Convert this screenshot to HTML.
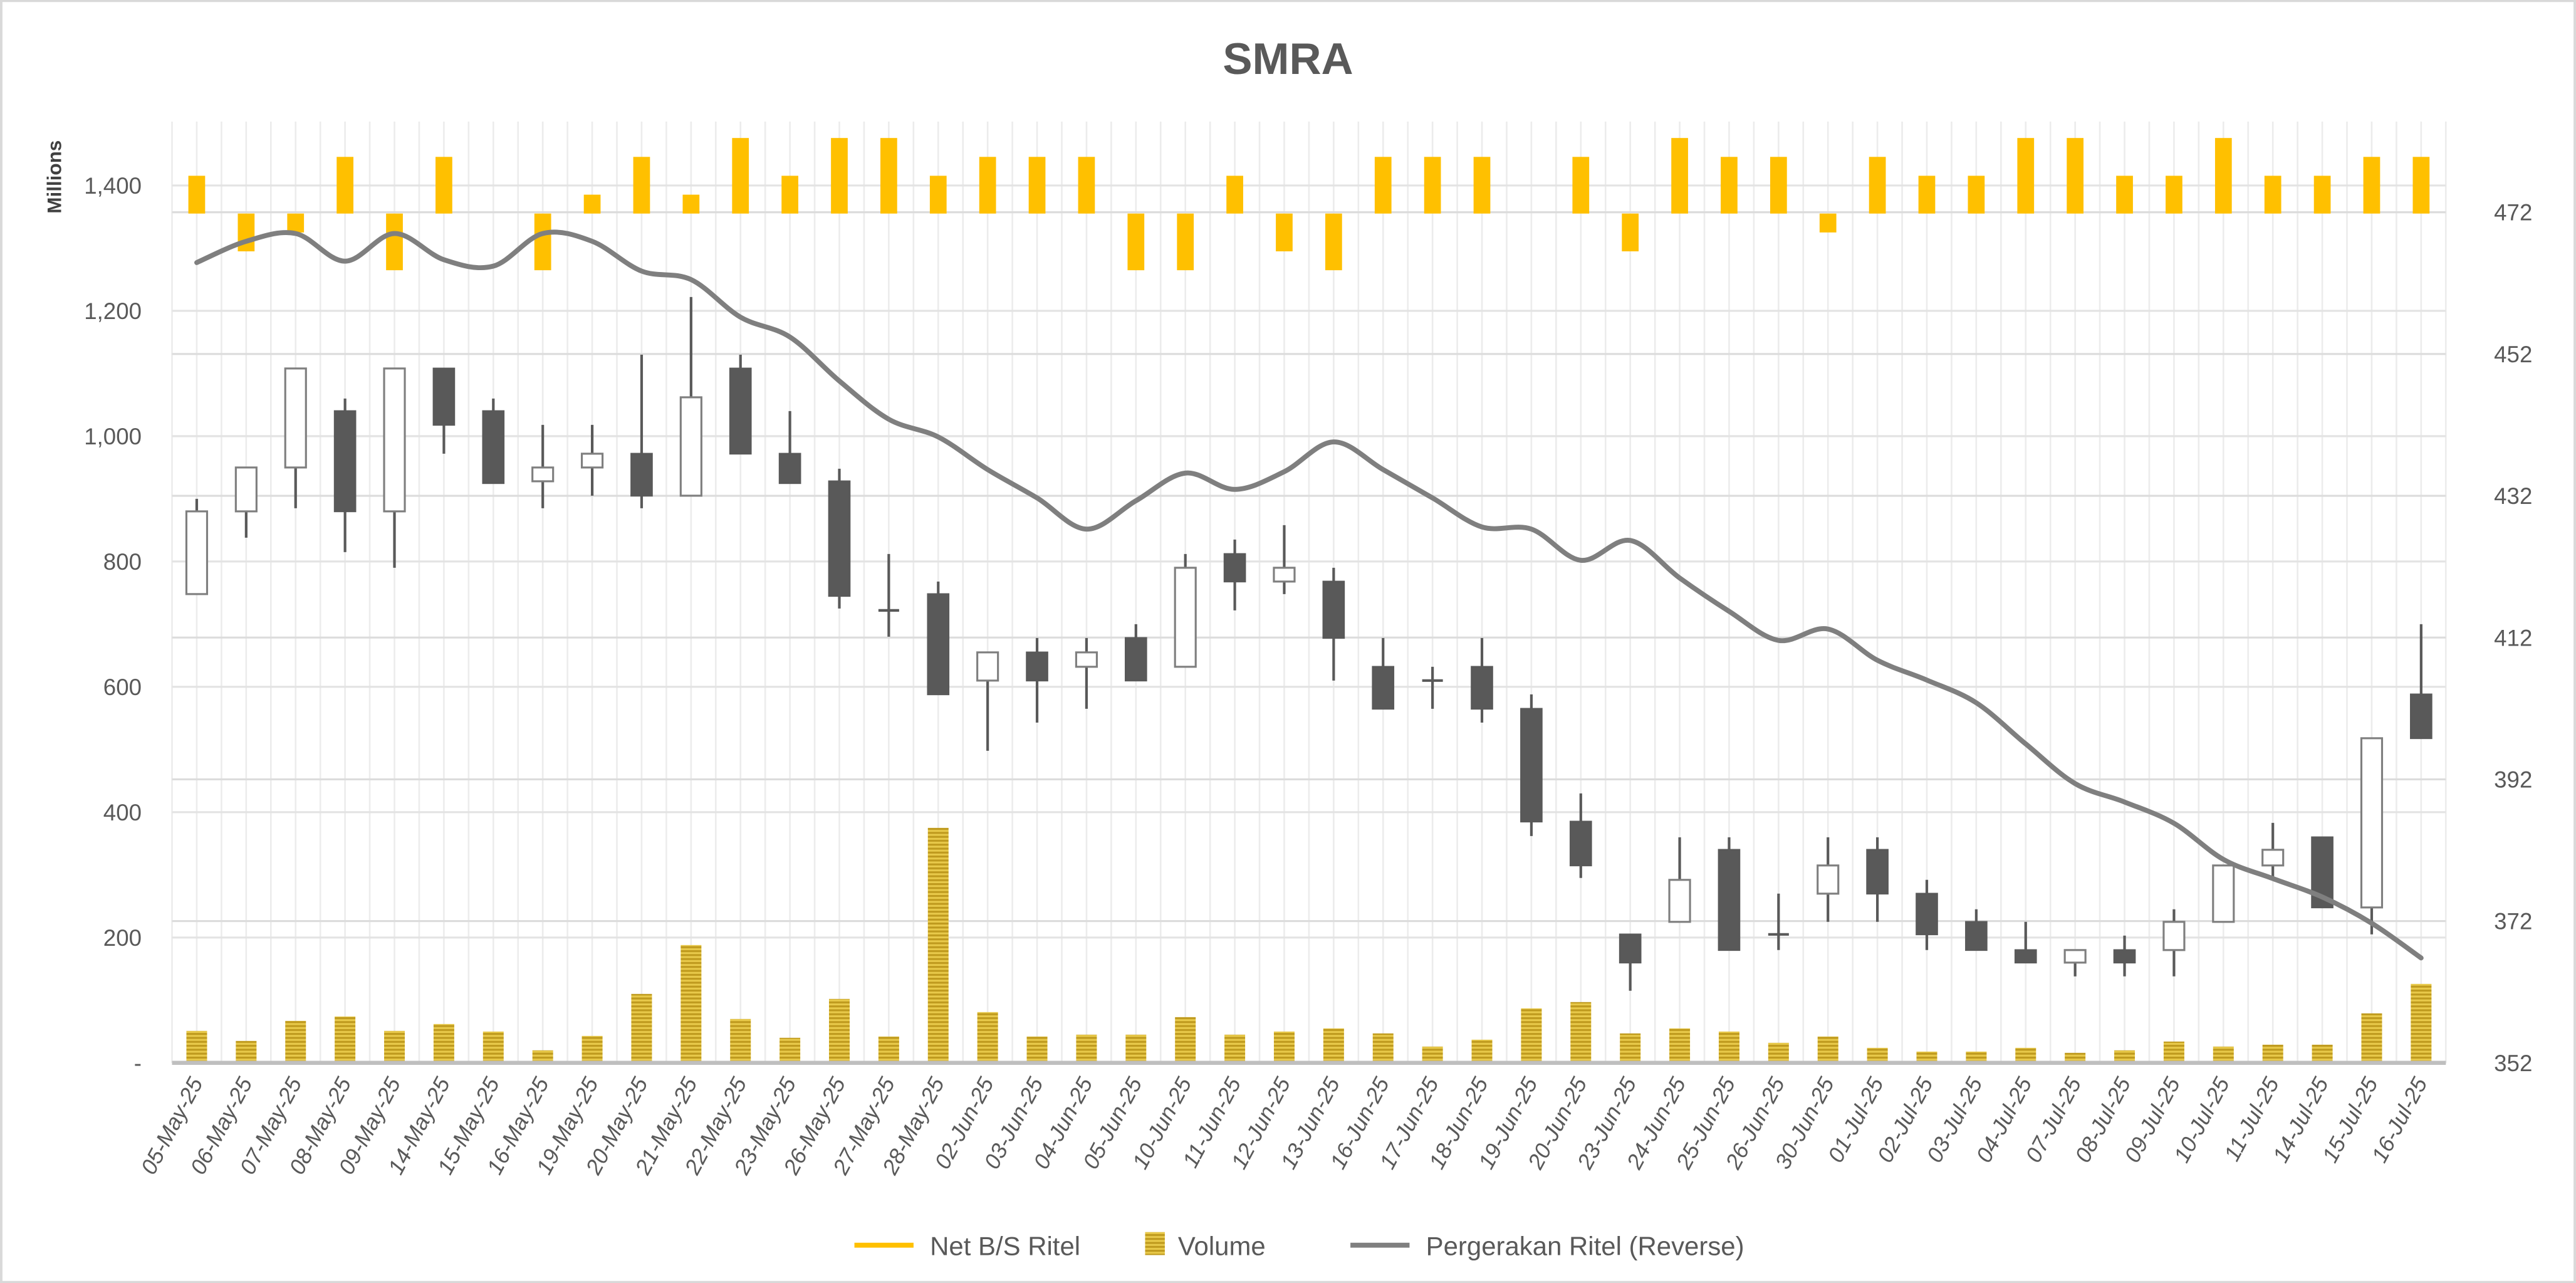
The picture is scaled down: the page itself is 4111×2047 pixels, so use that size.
<!DOCTYPE html>
<html><head><meta charset="utf-8"><style>
html,body{margin:0;padding:0;background:#fff;}
svg{display:block;font-family:"Liberation Sans",sans-serif;}
</style></head><body>
<svg id="chart" width="4111" height="2047" viewBox="0 0 1568 781" xmlns="http://www.w3.org/2000/svg">
<defs>
<pattern id="stripes" width="4" height="2.4" patternUnits="userSpaceOnUse">
<rect width="4" height="2.4" fill="#e8c94a"/><rect width="4" height="1.2" fill="#bf9a1e"/>
</pattern>
</defs>
<rect x="0.5" y="0.5" width="1567" height="780" fill="#fff" stroke="#d9d9d9" stroke-width="1.5"/>
<text x="784" y="45" text-anchor="middle" font-size="27" font-weight="bold" fill="#595959">SMRA</text>
<text transform="translate(37,130) rotate(-90)" font-size="12" font-weight="bold" fill="#404040">Millions</text>
<g id="grid"></g>
<g id="vol"></g>
<g id="net"></g>
<g id="candles"></g>
<g id="line"></g>
<g id="axes"></g>
<g font-size="16" fill="#595959">
<g><line x1="520" y1="758" x2="556" y2="758" stroke="#ffc000" stroke-width="3"/><text x="566" y="764">Net B/S Ritel</text></g>
<g><rect x="697" y="750" width="12" height="14" fill="url(#stripes)"/><text x="717" y="764">Volume</text></g>
<g><line x1="822" y1="758" x2="858" y2="758" stroke="#7f7f7f" stroke-width="3"/><text x="868" y="764">Pergerakan Ritel (Reverse)</text></g>
</g>
</svg>
<script>
const categories=["05-May-25","06-May-25","07-May-25","08-May-25","09-May-25","14-May-25","15-May-25","16-May-25","19-May-25","20-May-25","21-May-25","22-May-25","23-May-25","26-May-25","27-May-25","28-May-25","02-Jun-25","03-Jun-25","04-Jun-25","05-Jun-25","10-Jun-25","11-Jun-25","12-Jun-25","13-Jun-25","16-Jun-25","17-Jun-25","18-Jun-25","19-Jun-25","20-Jun-25","23-Jun-25","24-Jun-25","25-Jun-25","26-Jun-25","30-Jun-25","01-Jul-25","02-Jul-25","03-Jul-25","04-Jul-25","07-Jul-25","08-Jul-25","09-Jul-25","10-Jul-25","11-Jul-25","14-Jul-25","15-Jul-25","16-Jul-25"];
const openVals=[748,880,950,1040,880,1108,1040,928,950,972,905,1108,972,928,722,748,610,655,632,678,632,812,768,768,632,610,632,565,385,205,225,340,205,270,340,270,225,180,160,180,180,225,315,360,248,588];
const closeVals=[880,950,1108,880,1108,1018,925,950,972,905,1062,972,925,745,722,588,655,610,655,610,790,768,790,678,565,610,565,385,315,160,292,180,205,315,270,205,180,160,180,160,225,315,340,248,518,518];
const highVals=[900,950,1108,1060,1108,1108,1060,1018,1018,1130,1222,1130,1040,948,812,768,655,678,678,700,812,835,858,790,678,632,678,588,430,205,360,360,270,360,360,292,245,225,180,203,245,315,383,360,518,700];
const lowVals=[748,838,885,815,790,972,925,885,905,885,905,972,925,725,680,588,498,543,565,610,632,722,748,610,565,565,543,362,295,115,225,180,180,225,225,180,180,160,138,138,138,225,292,248,205,518];
const volumeVals=[51,35,67,74,51,62,50,20,43,110,188,70,40,102,42,375,81,42,45,45,73,45,50,55,47,26,37,87,97,47,55,50,32,42,24,18,18,24,16,20,34,26,29,29,79,126];
const netVals=[2,-2,-1,3,-3,3,0,-3,1,3,1,4,2,4,4,2,3,3,3,-3,-3,2,-2,-3,3,3,3,0,3,-2,4,3,3,-1,3,2,2,4,4,2,2,4,2,2,3,3];
const lineVals=[464.9,467.9,469,465.1,469,465.3,464.4,469,467.9,463.7,462.5,457.2,454.4,448.2,442.8,440.3,435.7,431.7,427.3,431.3,435.2,432.9,435.4,439.6,435.7,431.7,427.6,427.3,422.9,425.7,420.4,415.7,411.6,413.2,408.8,406,402.8,397,391.4,388.8,385.8,380.7,378,375.4,371.7,366.8];
const leftTicks=[0,200,400,600,800,1000,1200,1400];
const leftTickLabels=["-","200","400","600","800","1,000","1,200","1,400"];
const rightTicks=[352,372,392,412,432,452,472];

const NS="http://www.w3.org/2000/svg";
const PL=104.5, PR=1489, PT=74, PB=647;
const step=(PR-PL)/categories.length;
const xC=i=>PL+step*(i+0.5);
const yL=v=>PB-v*0.3815;
const yR=v=>PB-(v-352)*4.315;
const NET0=130, NETU=11.5;
const yN=v=>NET0-v*NETU;
function mk(tag,attrs,parent){const e=document.createElementNS(NS,tag);for(const k in attrs)e.setAttribute(k,attrs[k]);parent.appendChild(e);return e;}
const G=id=>document.getElementById(id);

// gridlines
const grid=G('grid');
for(let i=0;i<=categories.length*2;i++){
  const x=PL+step*i/2;
  const l=mk('line',{x1:x,x2:x,y1:PT,y2:PB,stroke:'#ececec','stroke-width':1},grid);
  
  
}
leftTicks.forEach(v=>{const l=mk('line',{x1:PL,x2:PR,y1:yL(v),y2:yL(v),stroke:'#e3e3e3','stroke-width':1.2},grid);
  
  });
rightTicks.forEach(v=>{const l=mk('line',{x1:PL,x2:PR,y1:yR(v),y2:yR(v),stroke:'#dcdcdc','stroke-width':1.2},grid);
  
  });

// volume
const vol=G('vol');
volumeVals.forEach((v,i)=>{const r=mk('rect',{x:xC(i)-6.3,y:yL(v),width:12.6,height:PB-yL(v),fill:'url(#stripes)'},vol);
  
  });

// net bars
const net=G('net');
netVals.forEach((v,i)=>{if(v===0)return;const y=Math.min(yN(v),NET0);const r=mk('rect',{x:xC(i)-5.1,y:y,width:10.2,height:Math.abs(v)*NETU,fill:'#ffc000'},net);
  
  });

// candles
const cg=G('candles');
categories.forEach((c,i)=>{
  const g=mk('g',{},cg);
  
  
  const x=xC(i);
  mk('line',{x1:x,x2:x,y1:yL(highVals[i]),y2:yL(lowVals[i]),stroke:'#595959','stroke-width':1.6},g);
  const o=openVals[i],cl=closeVals[i];
  const top=yL(Math.max(o,cl)),bot=yL(Math.min(o,cl));
  if(Math.abs(o-cl)<1){mk('line',{x1:x-6.3,x2:x+6.3,y1:top,y2:top,stroke:'#595959','stroke-width':1.6},g);}
  else if(cl>o){mk('rect',{x:x-6.3,y:top,width:12.6,height:bot-top,fill:'#fff',stroke:'#7f7f7f','stroke-width':1.2},g);}
  else{mk('rect',{x:x-6.3,y:top,width:12.6,height:bot-top,fill:'#595959',stroke:'#595959','stroke-width':1},g);}
});

// smooth line
const pts=lineVals.map((v,i)=>[xC(i),yR(v)]);
let d='M'+pts[0][0]+','+pts[0][1];
for(let i=0;i<pts.length-1;i++){
  const p0=pts[Math.max(0,i-1)],p1=pts[i],p2=pts[i+1],p3=pts[Math.min(pts.length-1,i+2)];
  const t=1/6;
  d+=' C'+(p1[0]+(p2[0]-p0[0])*t)+','+(p1[1]+(p2[1]-p0[1])*t)+' '+(p2[0]-(p3[0]-p1[0])*t)+','+(p2[1]-(p3[1]-p1[1])*t)+' '+p2[0]+','+p2[1];
}
const path=mk('path',{d:d,fill:'none',stroke:'#7f7f7f','stroke-width':3,'stroke-linecap':'round','stroke-linejoin':'round'},G('line'));



// axes
const ax=G('axes');
const base=mk('line',{x1:PL,x2:PR,y1:PB,y2:PB,stroke:'#bfbfbf','stroke-width':2.5},ax);


leftTicks.forEach((v,i)=>{const t=mk('text',{x:86,y:yL(v)+5,'text-anchor':'end','font-size':14,fill:'#595959'},ax);t.textContent=leftTickLabels[i];
  
  });
rightTicks.forEach(v=>{const t=mk('text',{x:1530,y:yR(v)+5,'text-anchor':'middle','font-size':14,fill:'#595959'},ax);t.textContent=v;
  
  });
categories.forEach((c,i)=>{const x=xC(i)+4,y=PB+12;const t=mk('text',{x:x,y:y,'text-anchor':'end','font-size':13.5,'font-style':'italic',fill:'#595959',transform:'rotate(-62 '+x+' '+y+')'},ax);t.textContent=c;
  
  });
</script>
</body></html>
